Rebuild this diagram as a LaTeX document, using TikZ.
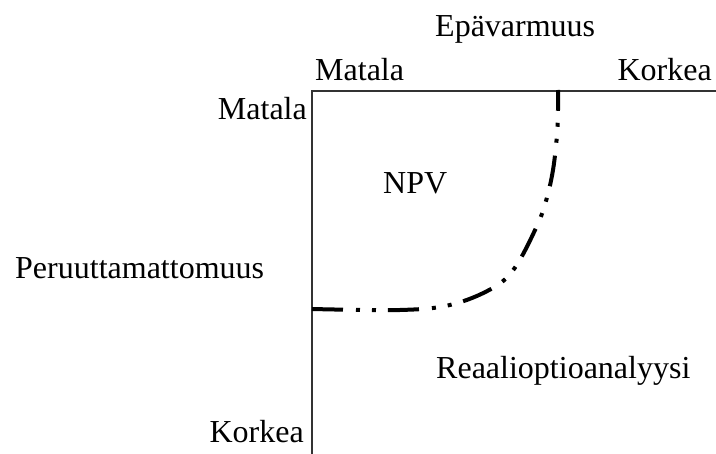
\documentclass[tikz,border=0pt]{standalone}
\usepackage{fontspec}
\setmainfont{Liberation Serif}
\begin{document}
\begin{tikzpicture}[x=1pt,y=-1pt,
  lbl/.style={inner sep=0pt,font=\fontsize{32}{38}\selectfont},
  axis/.style={line width=1.3pt,draw=black!80},
  boundary/.style={line width=4pt,dash pattern=on 31pt off 13pt on 4pt off 12pt on 4pt off 12pt}]
\useasboundingbox (0,0) rectangle (716,454);
\coordinate (corner) at (312,91);
\coordinate (xend) at (716,91);
\coordinate (yend) at (312,454);
\draw[axis] (xend) -- (corner) -- (yend);
\node[lbl,anchor=base west] (epa) at (435,37) {Epävarmuus};
\node[lbl,anchor=base west] (xlow) at (315,81) {Matala};
\node[lbl,anchor=base east] (xhigh) at (712,81) {Korkea};
\node[lbl,anchor=base east] (ylow) at (307,120) {Matala};
\node[lbl,anchor=base west] (per) at (15,279) {Peruuttamattomuus};
\node[lbl,anchor=base east] (yhigh) at (304,443) {Korkea};
\node[lbl,anchor=base west] (npv) at (383,194) {NPV};
\node[lbl,anchor=base west] (roa) at (436,379) {Reaalioptioanalyysi};
\draw[boundary] plot[smooth,tension=0.6] coordinates {(312,309) (400,310) (450,305) (491,289) (514,269) (536,228) (546,201) (553,170) (557,135) (558,110) (558,90)};
\end{tikzpicture}
\end{document}
